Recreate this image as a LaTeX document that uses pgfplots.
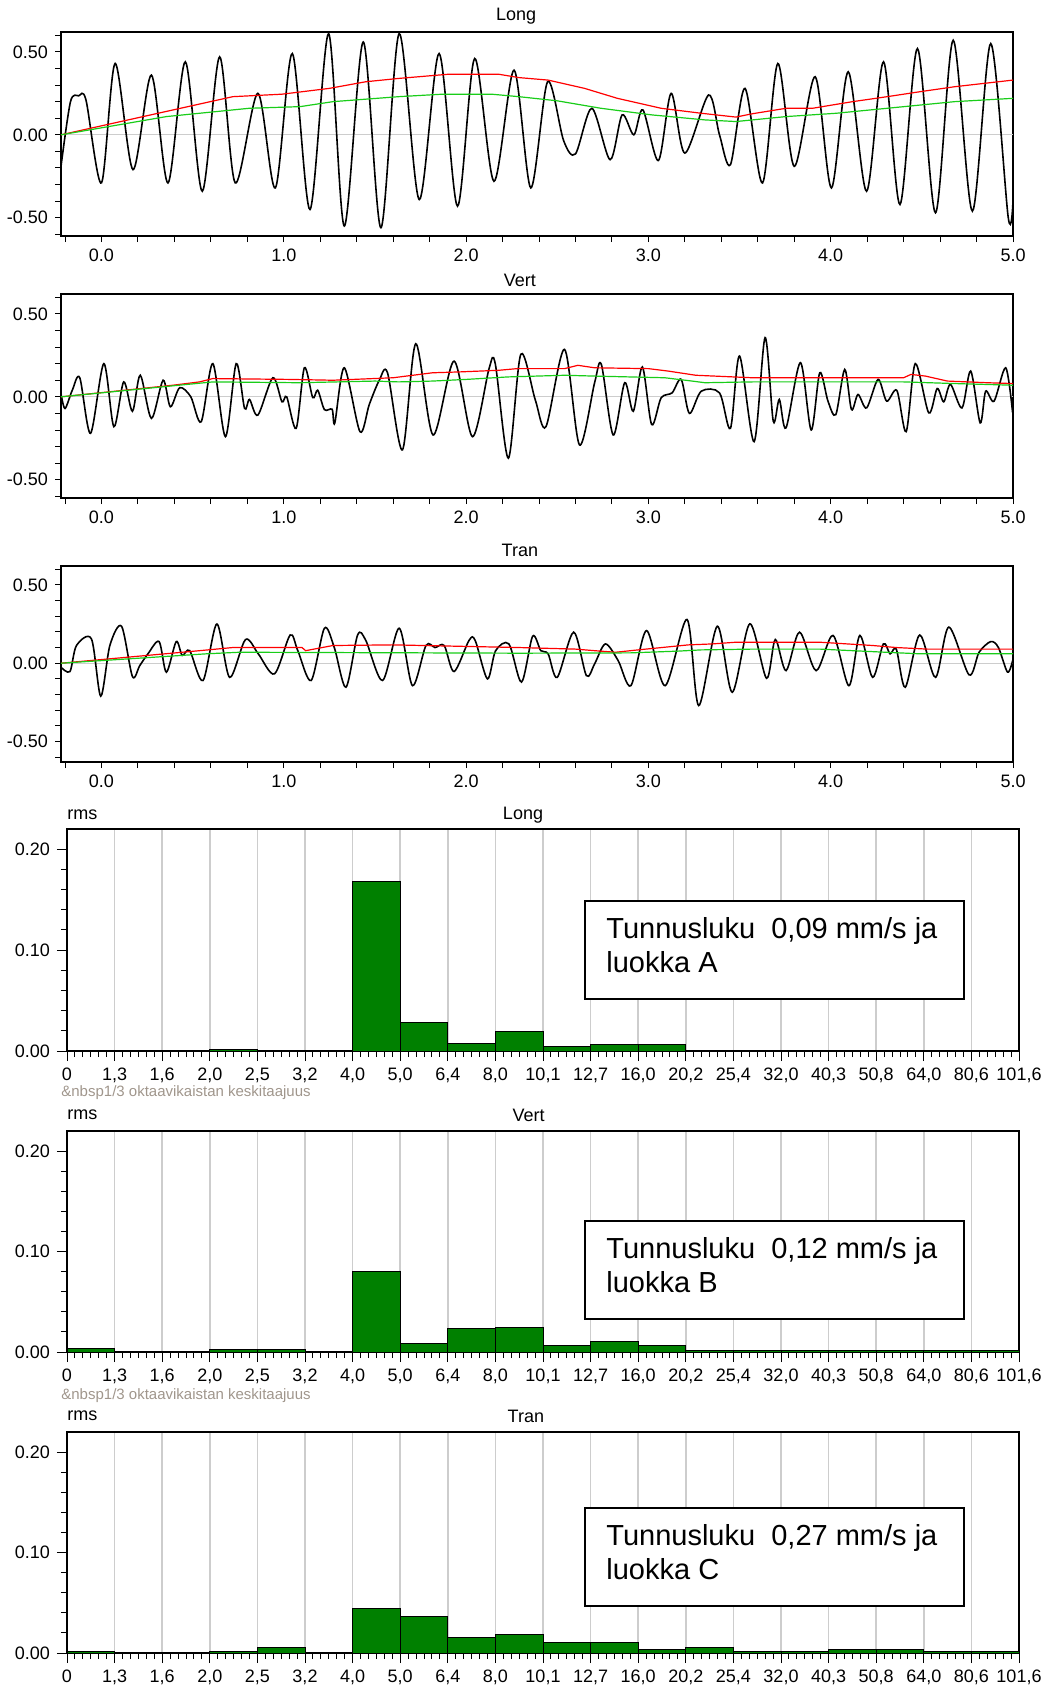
\documentclass[border=0pt]{standalone}
\usepackage{fontspec}
\setmainfont{Liberation Sans}
\usepackage{pgfplots}
\pgfplotsset{compat=1.18}

\definecolor{barg}{RGB}{0,128,0}
\definecolor{rmsred}{RGB}{255,0,0}
\definecolor{rmsgreen}{RGB}{25,205,25}
\definecolor{gridg}{RGB}{205,205,205}
\definecolor{subc}{RGB}{160,150,140}

\newcommand\fs{\fontsize{9}{10}\selectfont}

\pgfplotsset{
  ts/.style={
    scale only axis, width=476pt,
    xmin=-0.222, xmax=5,
    tick align=outside, tick pos=left,
    xtick={0,1,2,3,4,5}, xticklabels={0.0,1.0,2.0,3.0,4.0,5.0},
    minor xtick={-0.2,0.2,0.4,0.6,0.8,1.2,1.4,1.6,1.8,2.2,2.4,2.6,2.8,3.2,3.4,3.6,3.8,4.2,4.4,4.6,4.8},
    ytick={-0.5,0,0.5}, yticklabels={-0.50,0.00,0.50},
    minor ytick={-0.6,-0.4,-0.3,-0.2,-0.1,0.1,0.2,0.3,0.4,0.6},
    major tick length=3pt, minor tick length=3pt,
    tick style={black, line width=0.5pt},
    axis line style={line width=0.7pt},
    ticklabel style={font=\fs},
  },
  bs/.style={
    scale only axis, width=476pt, height=110.5pt,
    xmin=0, xmax=20, ymin=0, ymax=0.22,
    tick align=outside, tick pos=left,
    xtick={0,...,20},
    xticklabels={0,{1,3},{1,6},{2,0},{2,5},{3,2},{4,0},{5,0},{6,4},{8,0},{10,1},{12,7},{16,0},{20,2},{25,4},{32,0},{40,3},{50,8},{64,0},{80,6},{101,6}},
    minor x tick num=5,
    ytick={0,0.1,0.2}, yticklabels={0.00,0.10,0.20},
    minor ytick={0.02,0.04,0.06,0.08,0.12,0.14,0.16,0.18},
    xmajorgrids, grid style={gridg, line width=0.75pt},
    major tick length=5pt, minor tick length=3pt,
    tick style={black, line width=0.5pt},
    axis line style={line width=0.8pt},
    ticklabel style={font=\fs},
    clip=false,
  },
  sig/.style={black, line width=0.8pt, smooth, no markers},
  rr/.style={rmsred, line width=0.6pt, no markers},
  gg/.style={rmsgreen, line width=0.6pt, no markers},
  bars/.style={ybar interval, fill=barg, draw=black, line width=0.5pt},
}

\begin{document}
\begin{tikzpicture}
\useasboundingbox (0,0) rectangle (523pt,-843pt);

% ---- time series: Long ----
\begin{axis}[ts, height=102pt, ymin=-0.61, ymax=0.62,
  at={(30.5pt,-118pt)}, anchor=south west,
  extra description/.code={\node[font=\fs] at (0.478,1) [yshift=8pt] {Long};}]
\addplot[gridg, line width=0.6pt] coordinates {(-0.222,0) (5,0)};
\addplot[sig] coordinates {
(-0.222,-0.19) (-0.17,0.2) (-0.125,0.235) (-0.085,0.21) (0.0,-0.29) (0.075,0.43)
(0.173,-0.21) (0.274,0.36) (0.365,-0.29) (0.46,0.44) (0.553,-0.34) (0.648,0.47)
(0.734,-0.29) (0.858,0.25) (0.954,-0.32) (1.047,0.49) (1.144,-0.45) (1.246,0.61)
(1.332,-0.55) (1.436,0.56) (1.533,-0.56) (1.633,0.61) (1.743,-0.39) (1.852,0.49)
(1.953,-0.43) (2.047,0.46) (2.153,-0.28) (2.263,0.39) (2.355,-0.32) (2.447,0.32)
(2.535,-0.035) (2.60,-0.115) (2.69,0.16) (2.79,-0.15) (2.856,0.12) (2.92,0.0)
(2.97,0.15) (3.055,-0.155) (3.125,0.25) (3.2,-0.11) (3.33,0.24) (3.39,0.0)
(3.45,-0.18) (3.53,0.28) (3.626,-0.29) (3.71,0.43) (3.80,-0.19) (3.915,0.35)
(4.004,-0.32) (4.096,0.38) (4.197,-0.34) (4.29,0.44) (4.38,-0.42) (4.476,0.52)
(4.575,-0.47) (4.672,0.57) (4.777,-0.46) (4.878,0.55) (4.974,-0.50) (5.0,-0.40)
};
\addplot[rr] coordinates {
(-0.222,0) (0.72,0.23) (0.99,0.245) (1.25,0.28) (1.45,0.32) (1.63,0.34) (1.9,0.365)
(2.18,0.365) (2.29,0.345) (2.45,0.33) (2.65,0.28) (2.83,0.22) (3.07,0.16) (3.29,0.13)
(3.48,0.107) (3.57,0.127) (3.755,0.16) (3.9,0.16) (4.12,0.2) (4.31,0.23) (4.49,0.26)
(4.68,0.29) (5.0,0.33)
};
\addplot[gg] coordinates {
(-0.222,0) (0.356,0.11) (0.81,0.16) (1.09,0.17) (1.27,0.2) (1.63,0.23) (1.87,0.245)
(2.14,0.245) (2.29,0.23) (2.50,0.205) (2.74,0.16) (3.02,0.12) (3.31,0.09) (3.48,0.08)
(3.755,0.11) (4.03,0.13) (4.31,0.16) (4.68,0.2) (5.0,0.22)
};
\end{axis}

% ---- time series: Vert ----
\begin{axis}[ts, height=102pt, ymin=-0.61, ymax=0.62,
  at={(30.5pt,-249pt)}, anchor=south west,
  extra description/.code={\node[font=\fs] at (0.482,1) [yshift=7pt] {Vert};}]
\addplot[gridg, line width=0.6pt] coordinates {(-0.222,0) (5,0)};
\addplot[sig] coordinates {
(-0.222,0.02) (-0.2,-0.07) (-0.16,0.04) (-0.119,0.115) (-0.06,-0.22) (0.013,0.2)
(0.068,-0.18) (0.122,0.09) (0.17,-0.087) (0.213,0.13) (0.274,-0.13) (0.338,0.1)
(0.378,-0.06) (0.429,0.055) (0.49,0.0) (0.547,-0.15) (0.611,0.2) (0.68,-0.24)
(0.739,0.2) (0.785,-0.07) (0.812,-0.016) (0.858,-0.11) (0.94,0.115) (0.99,-0.03)
(1.016,0.0) (1.068,-0.19) (1.113,0.175) (1.159,-0.005) (1.186,0.04) (1.223,-0.077)
(1.265,-0.075) (1.28,-0.157) (1.332,0.175) (1.418,-0.21) (1.469,-0.046) (1.524,0.1)
(1.569,0.145) (1.651,-0.32) (1.724,0.32) (1.819,-0.23) (1.934,0.215) (2.035,-0.24)
(2.126,0.17) (2.16,0.2) (2.232,-0.37) (2.30,0.256) (2.38,-0.02) (2.438,-0.18)
(2.54,0.286) (2.622,-0.29) (2.705,0.085) (2.742,0.195) (2.807,-0.23) (2.87,0.085)
(2.917,-0.087) (2.967,0.18) (3.018,-0.167) (3.07,-0.006) (3.13,0.024) (3.18,0.105)
(3.225,-0.1) (3.29,0.034) (3.39,0.024) (3.45,-0.19) (3.50,0.246) (3.58,-0.27)
(3.64,0.357) (3.685,-0.147) (3.718,-0.016) (3.755,-0.187) (3.834,0.206) (3.893,-0.2)
(3.94,0.145) (3.985,-0.026) (4.028,-0.107) (4.077,0.165) (4.114,-0.077) (4.15,0.014)
(4.197,-0.067) (4.26,0.105) (4.307,-0.026) (4.363,0.038) (4.414,-0.21) (4.464,0.2)
(4.538,-0.097) (4.584,0.05) (4.62,-0.03) (4.657,0.075) (4.72,-0.067) (4.768,0.155)
(4.82,-0.157) (4.85,0.034) (4.896,-0.026) (4.96,0.175) (4.998,-0.097)
};
\addplot[rr] coordinates {
(-0.222,0) (0.392,0.07) (0.538,0.09) (0.61,0.11) (1.03,0.105) (1.27,0.1) (1.6,0.115)
(1.816,0.145) (1.96,0.15) (2.18,0.16) (2.28,0.17) (2.54,0.17) (2.613,0.19) (2.705,0.175)
(3.0,0.17) (3.11,0.155) (3.26,0.13) (3.57,0.115) (4.4,0.115) (4.44,0.135) (4.52,0.125)
(4.64,0.095) (4.86,0.085) (5.0,0.08)
};
\addplot[gg] coordinates {
(-0.222,0) (0.611,0.09) (1.086,0.085) (1.5,0.095) (1.63,0.09) (1.816,0.095) (2.0,0.105)
(2.23,0.12) (2.54,0.13) (2.705,0.125) (3.09,0.115) (3.24,0.095) (3.31,0.085) (3.57,0.09)
(4.4,0.09) (4.68,0.08) (5.0,0.07)
};
\end{axis}

% ---- time series: Tran ----
\begin{axis}[ts, height=98pt, ymin=-0.63, ymax=0.62,
  at={(30.5pt,-381pt)}, anchor=south west,
  extra description/.code={\node[font=\fs] at (0.482,1) [yshift=8pt] {Tran};}]
\addplot[gridg, line width=0.6pt] coordinates {(-0.222,0) (5,0)};
\addplot[sig] coordinates {
(-0.222,-0.025) (-0.173,-0.053) (-0.137,0.113) (-0.055,0.155) (-0.004,-0.21) (0.046,0.113)
(0.11,0.236) (0.17,-0.085) (0.21,-0.015) (0.255,0.06) (0.316,0.138) (0.356,-0.057)
(0.41,0.138) (0.443,0.05) (0.484,0.08) (0.557,-0.11) (0.633,0.25) (0.703,-0.09)
(0.79,0.151) (0.86,0.06) (0.949,-0.068) (1.035,0.18) (1.077,0.08) (1.15,-0.11)
(1.223,0.223) (1.277,0.1) (1.341,-0.153) (1.405,0.18) (1.45,0.145) (1.542,-0.11)
(1.633,0.223) (1.706,-0.143) (1.78,0.113) (1.83,0.1) (1.88,0.113) (1.934,-0.053)
(2.016,0.145) (2.05,0.145) (2.117,-0.1) (2.162,0.08) (2.235,0.123) (2.304,-0.12)
(2.365,0.172) (2.41,0.08) (2.45,0.06) (2.5,-0.09) (2.59,0.198) (2.66,-0.079)
(2.705,-0.004) (2.764,0.123) (2.834,0.017) (2.904,-0.143) (2.99,0.208) (3.092,-0.143)
(3.212,0.279) (3.276,-0.27) (3.378,0.236) (3.46,-0.185) (3.556,0.251) (3.648,-0.096)
(3.696,0.151) (3.755,-0.047) (3.829,0.198) (3.92,-0.047) (4.013,0.177) (4.1,-0.143)
(4.16,0.177) (4.23,-0.09) (4.289,0.123) (4.326,0.06) (4.36,0.09) (4.409,-0.153)
(4.488,0.18) (4.575,-0.09) (4.648,0.23) (4.759,-0.074) (4.814,0.07) (4.878,0.138)
(4.92,0.1) (4.97,-0.057) (4.998,0.017)
};
\addplot[rr] coordinates {
(-0.222,0) (0.538,0.08) (0.72,0.1) (1.1,0.1) (1.12,0.08) (1.27,0.113) (1.6,0.117)
(2.29,0.1) (2.6,0.09) (2.705,0.08) (2.82,0.07) (2.96,0.087) (3.22,0.117) (3.35,0.123)
(3.48,0.134) (3.94,0.134) (4.23,0.113) (4.36,0.1) (4.53,0.09) (5.0,0.09)
};
\addplot[gg] coordinates {
(-0.222,0) (0.575,0.06) (0.757,0.07) (2.29,0.064) (2.9,0.066) (3.16,0.077) (3.29,0.085)
(3.57,0.09) (3.94,0.09) (4.12,0.08) (4.3,0.07) (4.49,0.06) (5.0,0.06)
};
\end{axis}

% ---- 1/3 octave bars: Long ----
\begin{axis}[bs, height=111pt, at={(33.5pt,-525.5pt)}, anchor=south west,
  extra description/.code={
    \node[font=\fs, anchor=west, inner sep=0pt] at (0,1) [yshift=7pt] {rms};
    \node[font=\fs] at (0.479,1) [yshift=7pt] {Long};
    \node[font=\fontsize{7.5}{8}\selectfont, text=subc, anchor=west, inner sep=0pt]
      at (0,0) [xshift=-3pt, yshift=-21pt] {\&nbsp1/3 oktaavikaistan keskitaajuus};
  }]
\addplot[bars] coordinates {
(0,0) (1,0) (2,0) (3,0.0015) (4,0) (5,0) (6,0.168) (7,0.028) (8,0.007) (9,0.019)
(10,0.004) (11,0.0066) (12,0.0066) (13,0.001) (14,0.001) (15,0.001) (16,0.001)
(17,0.001) (18,0.001) (19,0.001) (20,0)
};
\end{axis}

% ---- 1/3 octave bars: Vert ----
\begin{axis}[bs, at={(33.5pt,-676pt)}, anchor=south west,
  extra description/.code={
    \node[font=\fs, anchor=west, inner sep=0pt] at (0,1) [yshift=8pt] {rms};
    \node[font=\fs] at (0.485,1) [yshift=8pt] {Vert};
    \node[font=\fontsize{7.5}{8}\selectfont, text=subc, anchor=west, inner sep=0pt]
      at (0,0) [xshift=-3pt, yshift=-22pt] {\&nbsp1/3 oktaavikaistan keskitaajuus};
  }]
\addplot[bars] coordinates {
(0,0.0035) (1,0) (2,0) (3,0.003) (4,0.003) (5,0) (6,0.080) (7,0.008) (8,0.023)
(9,0.0245) (10,0.0066) (11,0.0103) (12,0.0066) (13,0.0015) (14,0.0015) (15,0.0015)
(16,0.0015) (17,0.0015) (18,0.0015) (19,0.0015) (20,0)
};
\end{axis}

% ---- 1/3 octave bars: Tran ----
\begin{axis}[bs, at={(33.5pt,-826.5pt)}, anchor=south west,
  extra description/.code={
    \node[font=\fs, anchor=west, inner sep=0pt] at (0,1) [yshift=8pt] {rms};
    \node[font=\fs] at (0.482,1) [yshift=8pt] {Tran};
  }]
\addplot[bars] coordinates {
(0,0.002) (1,0) (2,0) (3,0.002) (4,0.005) (5,0) (6,0.044) (7,0.036) (8,0.015)
(9,0.018) (10,0.010) (11,0.010) (12,0.0037) (13,0.005) (14,0.0017) (15,0.0017)
(16,0.0037) (17,0.0037) (18,0.0017) (19,0.0017) (20,0)
};
\end{axis}

% ---- text boxes ----
\foreach \top/\val/\cls in {-450.5/{0,09}/A, -610.5/{0,12}/B, -754/{0,27}/C} {
  \draw[black, line width=0.75pt, fill=white] (292.5pt,\top pt) rectangle (482pt,\top pt-49pt);
  \node[anchor=base west, inner sep=0pt, font=\fontsize{14.5}{17}\selectfont]
    at (303pt,\top pt-18.5pt) {Tunnusluku\ \ \val{} mm/s ja};
  \node[anchor=base west, inner sep=0pt, font=\fontsize{14.5}{17}\selectfont]
    at (303pt,\top pt-35.9pt) {luokka \cls};
}
\end{tikzpicture}
\end{document}
